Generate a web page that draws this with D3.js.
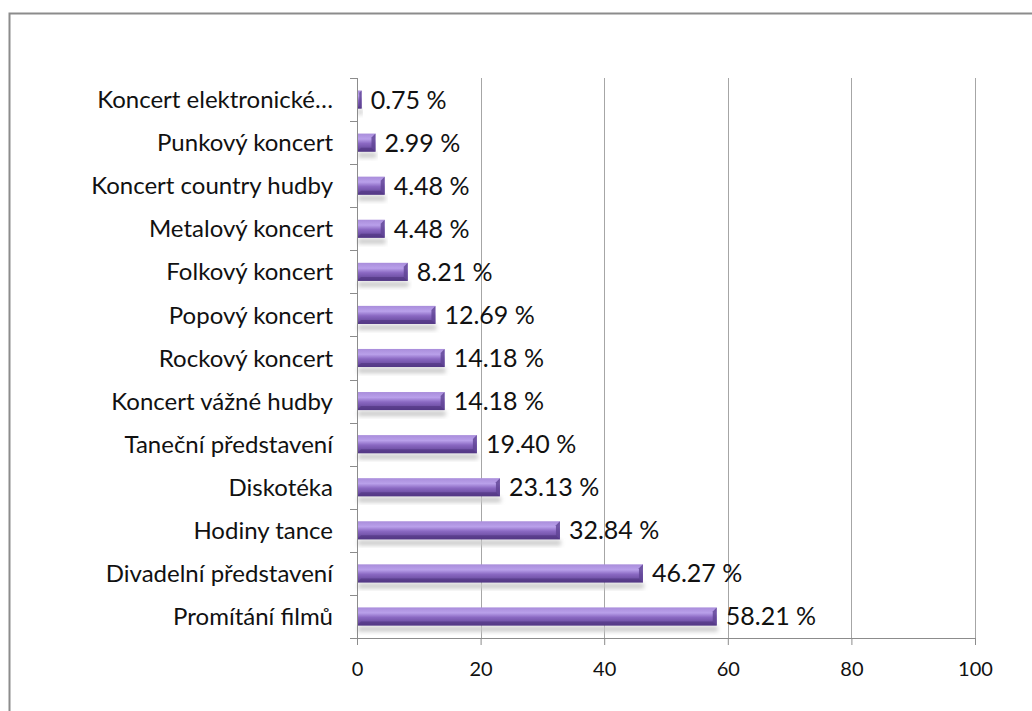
<!DOCTYPE html>
<html>
<head>
<meta charset="utf-8">
<script src="https://cdn.jsdelivr.net/npm/d3@7"></script>
<style>
  body { margin: 0; background: #fff; }
  svg { display: block; font-family: Lato, "Open Sans", sans-serif; }
</style>
</head>
<body>
<svg id="chart" width="1032" height="711"></svg>
<script>
// Data, top to bottom as drawn.
var categories = [
  'Koncert elektronické…', 'Punkový koncert', 'Koncert country hudby',
  'Metalový koncert', 'Folkový koncert', 'Popový koncert', 'Rockový koncert',
  'Koncert vážné hudby', 'Taneční představení', 'Diskotéka', 'Hodiny tance',
  'Divadelní představení', 'Promítání filmů'
];
var values = [0.75, 2.99, 4.48, 4.48, 8.21, 12.69, 14.18, 14.18, 19.40, 23.13, 32.84, 46.27, 58.21];
var xTicks = [0, 20, 40, 60, 80, 100];

var svg = d3.select('#chart');
var plotLeft = 357, plotRight = 975, plotTop = 78, plotBottom = 638;

// Outer frame.
svg.append('rect')
  .attr('x', 9.5).attr('y', 13.5).attr('width', 1040).attr('height', 720)
  .attr('fill', 'none').attr('stroke', '#8c8c8c').attr('stroke-width', 2);

var x = d3.scaleLinear().domain([0, 100]).range([plotLeft, plotRight]);
var y = d3.scaleBand().domain(categories).range([plotTop, plotBottom]).paddingInner(0.58).paddingOuter(0.29);

// Gradient for the bars.
var defs = svg.append('defs');
var grad = defs.append('linearGradient').attr('id', 'barGrad')
  .attr('x1', 0).attr('y1', 0).attr('x2', 0).attr('y2', 1);
grad.append('stop').attr('offset', '0%').attr('stop-color', '#a98ddb');
grad.append('stop').attr('offset', '30%').attr('stop-color', '#b9a0ea');
grad.append('stop').attr('offset', '55%').attr('stop-color', '#8a68c2');
grad.append('stop').attr('offset', '100%').attr('stop-color', '#5b3f8f');
var blur = defs.append('filter').attr('id', 'shadow').attr('x', '-5%').attr('y', '-50%').attr('width', '110%').attr('height', '200%');
blur.append('feGaussianBlur').attr('stdDeviation', 2);

// Gridlines.
svg.append('g').selectAll('line')
  .data(xTicks.slice(1))
  .enter().append('line')
  .attr('x1', function(d){ return Math.round(x(d)) + 0.5; })
  .attr('x2', function(d){ return Math.round(x(d)) + 0.5; })
  .attr('y1', plotTop).attr('y2', plotBottom)
  .attr('stroke', '#a6a6a6').attr('stroke-width', 1);

// Bar shadows.
svg.append('g').selectAll('rect')
  .data(values)
  .enter().append('rect')
  .attr('x', plotLeft + 1)
  .attr('y', function(d, i){ return y(categories[i]) + y.bandwidth() + 1; })
  .attr('width', function(d){ return Math.max(x(d) - plotLeft, 2); })
  .attr('height', 5)
  .attr('fill', '#c8c8c8')
  .attr('filter', 'url(#shadow)');

// Bars.
var bars = svg.append('g').selectAll('g')
  .data(values)
  .enter().append('g');
bars.append('rect')
  .attr('x', plotLeft)
  .attr('y', function(d, i){ return y(categories[i]); })
  .attr('width', function(d){ return Math.max(x(d) - plotLeft, 3); })
  .attr('height', y.bandwidth())
  .attr('fill', 'url(#barGrad)');
// Bevelled right end.
bars.append('path')
  .attr('d', function(d, i){
    var x1 = plotLeft + Math.max(x(d) - plotLeft, 3), y0 = y(categories[i]), h = y.bandwidth();
    var b = Math.min(4, (x1 - plotLeft) / 2);
    return 'M' + (x1 - b) + ',' + (y0 + b) + 'L' + x1 + ',' + y0 + 'L' + x1 + ',' + (y0 + h) + 'L' + (x1 - b) + ',' + (y0 + h - b) + 'Z';
  })
  .attr('fill', '#5f4494').attr('opacity', 0.8);
bars.append('path')
  .attr('d', function(d, i){
    var x1 = plotLeft + Math.max(x(d) - plotLeft, 3), y0 = y(categories[i]), h = y.bandwidth();
    var b = Math.min(4, (x1 - plotLeft) / 2);
    return 'M' + plotLeft + ',' + (y0 + h) + 'L' + (plotLeft + b) + ',' + (y0 + h - b) + 'L' + (x1 - b) + ',' + (y0 + h - b) + 'L' + x1 + ',' + (y0 + h) + 'Z';
  })
  .attr('fill', '#4e347e').attr('opacity', 0.6);

// Value labels.
svg.append('g').selectAll('text')
  .data(values)
  .enter().append('text')
  .attr('x', function(d){ return x(d) + 9; })
  .attr('y', function(d, i){ return y(categories[i]) + y.bandwidth() / 2; })
  .attr('dy', '0.36em')
  .attr('font-size', 25)
  .attr('fill', '#111')
  .text(function(d){ return d.toFixed(2) + ' %'; });

// Left axis.
var yAxis = svg.append('g').attr('transform', 'translate(' + plotLeft + ',0)');
yAxis.append('line').attr('x1', 0.5).attr('x2', 0.5).attr('y1', plotTop).attr('y2', plotBottom)
  .attr('stroke', '#8c8c8c');
var bounds = d3.range(categories.length + 1).map(function(i){ return plotTop + i * y.step(); });
yAxis.selectAll('line.tk').data(bounds).enter().append('line')
  .attr('class', 'tk')
  .attr('x1', -7).attr('x2', 0)
  .attr('y1', function(d){ return Math.round(d) + 0.5; })
  .attr('y2', function(d){ return Math.round(d) + 0.5; })
  .attr('stroke', '#8c8c8c');
yAxis.selectAll('text').data(categories).enter().append('text')
  .attr('x', -24)
  .attr('y', function(d){ return y(d) + y.bandwidth() / 2; })
  .attr('dy', '0.36em')
  .attr('text-anchor', 'end')
  .attr('font-size', 24)
  .attr('fill', '#111')
  .text(function(d){ return d; });

// Bottom axis.
var xAxis = svg.append('g').attr('transform', 'translate(0,' + plotBottom + ')')
  .call(d3.axisBottom(x).tickValues(xTicks).tickSize(7).tickSizeOuter(0).tickFormat(d3.format('d')));
xAxis.select('.domain').attr('stroke', '#8c8c8c');
xAxis.selectAll('.tick line').attr('stroke', '#8c8c8c');
xAxis.selectAll('.tick text')
  .attr('y', 24)
  .attr('font-size', 20)
  .attr('font-family', 'Lato, "Open Sans", sans-serif')
  .attr('fill', '#111');
</script>
</body>
</html>
